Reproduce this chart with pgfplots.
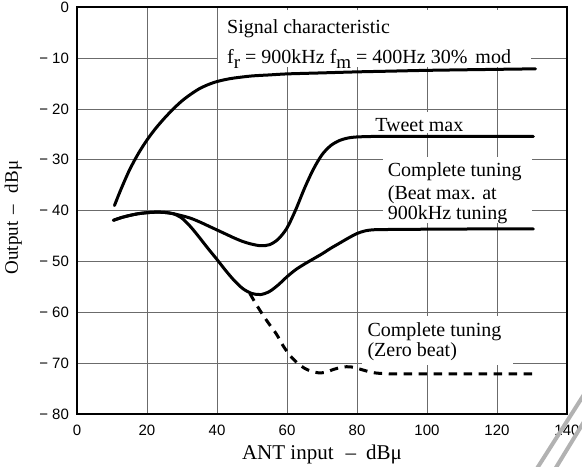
\documentclass[border=0pt]{standalone}
\usepackage{fontspec}
\setmainfont{Liberation Serif}
\newfontfamily\ticksans{Liberation Sans}
\usepackage{pgfplots}
\pgfplotsset{compat=1.18}

\newcommand{\sub}[1]{\raisebox{-2.5pt}{\fontsize{9.5}{10}\selectfont #1}}
\newcommand{\mn}{−\hspace{2pt}}

\begin{document}
\begin{tikzpicture}
\begin{axis}[
  name=ax,
  width=245pt, height=203.35pt, scale only axis,
  xmin=0, xmax=140, ymin=-80, ymax=0,
  xtick={0,20,...,140},
  ytick={-80,-70,...,0},
  yticklabels={\mn80,\mn70,\mn60,\mn50,\mn40,\mn30,\mn20,\mn10,0},
  major tick length=0pt,
  grid=major,
  major grid style={black!58, line width=0.45pt},
  axis line style={line width=0.9pt},
  /pgf/number format/assume math mode=true,
  tick label style={font=\ticksans\fontsize{7.5}{9}\selectfont},
  xticklabel style={yshift=-2pt},
  yticklabel style={xshift=-0.5pt},
  xlabel={ANT input\hspace{6pt}–\hspace{5pt}dBμ},
  ylabel={Output\hspace{3.5pt}–\hspace{6pt}dBμ},
  xlabel style={at={(axis description cs:0.5,-0.1114)}, anchor=base,
    font=\fontsize{10.5}{12}\selectfont, inner sep=0pt},
  ylabel style={at={(axis description cs:-0.13,0.483)}, anchor=center,
    font=\fontsize{9.5}{11}\selectfont, inner sep=0pt},
  every node/.append style={font=\fontsize{10.5}{12}\selectfont},
  curve/.style={black, line width=1.5pt, smooth, line cap=round},
]
% white patches behind the notes
\fill[white] (axis cs:40.3,-0.6) rectangle (axis cs:129.8,-11.7);
\fill[white] (axis cs:84.3,-20.5) rectangle (axis cs:112.3,-24.8);
\fill[white] (axis cs:87.4,-29.4) rectangle (axis cs:130,-42.4);
\fill[white] (axis cs:81.3,-60.8) rectangle (axis cs:124.7,-70.4);

\node[anchor=base west, inner sep=0pt] at (axis cs:42.8,-5.1) {Signal characteristic};
\node[anchor=base west, inner sep=0pt] at (axis cs:42.8,-11.0)
  {f\sub{r} = 900kHz f\sub{m} = 400Hz 30\%\hspace{4pt}mod};
\node[anchor=base west, inner sep=0pt] at (axis cs:85.1,-24.4) {Tweet max};
\node[anchor=base west, inner sep=0pt] at (axis cs:88.7,-33.28) {Complete tuning};
\node[anchor=base west, inner sep=0pt] at (axis cs:88.7,-37.72) {(Beat max. at};
\node[anchor=base west, inner sep=0pt] at (axis cs:88.7,-41.79) {900kHz tuning};
\node[anchor=base west, inner sep=0pt] at (axis cs:82.9,-64.7) {Complete tuning};
\node[anchor=base west, inner sep=0pt] at (axis cs:82.9,-68.6) {(Zero beat)};

% signal characteristic
\addplot[curve] coordinates {
  (10.7,-39) (12.5,-35.9) (15,-32.0) (17.5,-28.8) (20,-26.1) (22.5,-23.8)
  (25,-21.8) (27.5,-20.0) (30,-18.4) (32.5,-17.1) (35,-16.0) (37.5,-15.2)
  (40,-14.6) (42.5,-14.2) (45,-13.9) (50,-13.5) (55,-13.3) (60,-13.1)
  (70,-12.9) (80,-12.7) (90,-12.55) (100,-12.4) (115,-12.25) (131,-12.1)
};
% tweet max
\addplot[curve] coordinates {
  (10.4,-41.9) (12.5,-41.4) (15,-40.95) (17.5,-40.6) (20,-40.4) (22.5,-40.3)
  (25,-40.35) (27.5,-40.6) (30,-41.0) (32.5,-41.5) (35,-42.2) (37.5,-43.0)
  (40,-43.8) (42.5,-44.6) (45,-45.4) (47.5,-46.1) (50,-46.6) (52.5,-46.9)
  (55,-46.7) (57.5,-45.6) (60,-43.4) (62.5,-39.8) (65,-35.6) (67.5,-31.9)
  (70,-29.0) (72.5,-27.2) (75,-26.2) (77.5,-25.7) (80,-25.5) (85,-25.4)
  (90,-25.4) (100,-25.4) (115,-25.4) (130.4,-25.4)
};
% complete tuning, beat max
\addplot[curve] coordinates {
  (10.4,-41.9) (12.5,-41.4) (15,-40.95) (17.5,-40.6) (20,-40.4) (22.5,-40.3)
  (25,-40.35) (27.5,-40.6) (30,-41.5) (32.5,-43.2) (35,-45.3) (37.5,-47.5)
  (40,-49.6) (42.5,-51.8) (45,-53.8) (47.5,-55.4) (50,-56.3) (52.5,-56.5)
  (55,-55.9) (57.5,-54.6) (60,-53.0) (62.5,-51.6) (65,-50.5) (67.5,-49.5)
  (70,-48.5) (72.5,-47.4) (75,-46.4) (77.5,-45.4) (80,-44.5) (82.5,-43.95)
  (85,-43.75) (90,-43.7) (100,-43.65) (115,-43.6) (130.4,-43.6)
};
% complete tuning, zero beat
\addplot[curve, line cap=butt, dash pattern=on 4.2pt off 3.3pt] coordinates {
  (49.4,-56.3) (51,-58.2) (53,-60.4) (55,-62.4) (57,-64.3) (59,-66.7)
  (61,-68.6) (63,-70.0) (65,-71.0) (67,-71.6) (69,-71.9) (71,-71.8)
  (73,-71.3) (75,-70.9) (77,-70.7) (79,-70.8) (81,-71.2) (83,-71.6)
  (85,-71.9) (87.5,-72.05) (90,-72.1) (100,-72.1) (115,-72.1) (130.4,-72.1)
};
\end{axis}
% scan marks at the lower right corner
\draw[black!30, line width=2pt] ([shift={(254.7pt,11.65pt)}]ax.south west) -- ([shift={(228.6pt,-29.4pt)}]ax.south west);
\draw[black!30, line width=2pt] ([shift={(254pt,-3pt)}]ax.south west) -- ([shift={(238.75pt,-28pt)}]ax.south west);
\pgfresetboundingbox
\useasboundingbox ([shift={(-38.5pt,-26pt)}]ax.south west) rectangle ++(291pt,233pt);
\end{tikzpicture}
\end{document}
